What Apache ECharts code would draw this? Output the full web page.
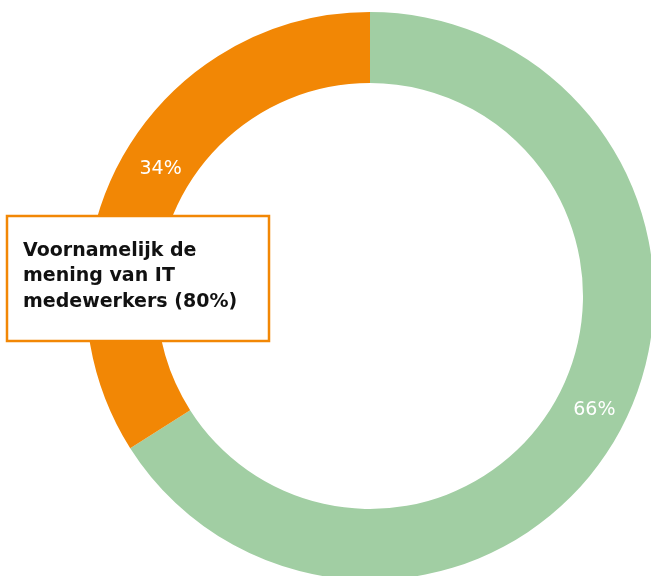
<!DOCTYPE html>
<html>
<head>
<meta charset="utf-8">
<script src="https://cdn.jsdelivr.net/npm/echarts@6/dist/echarts.min.js"></script>
<style>
  html, body { margin: 0; padding: 0; background: #ffffff; }
  #chart { width: 651px; height: 576px; }
</style>
</head>
<body>
<div id="chart"></div>
<script>
// Share of answers
const categories = ['Ja', 'Nee'];
const values = [66, 34];
const colors = ['#A1CEA3', '#F28705'];
const labelOffsets = [[4, -7], [11, -6]];
const calloutLines = ['Voornamelijk de', 'mening van IT', 'medewerkers (80%)'];

const chart = echarts.init(document.getElementById('chart'));

chart.setOption({
  animation: false,
  series: [{
    type: 'pie',
    center: [370, 296],
    radius: [213, 284],
    startAngle: 90,
    clockwise: true,
    silent: true,
    label: {
      show: true,
      position: 'inside',
      formatter: '{c}%',
      color: '#ffffff',
      fontFamily: '"DejaVu Sans", sans-serif',
      fontSize: 19
    },
    labelLine: { show: false },
    itemStyle: { borderWidth: 0 },
    data: categories.map((name, i) => ({
      name: name,
      value: values[i],
      itemStyle: { color: colors[i] },
      label: { offset: labelOffsets[i] }
    }))
  }],
  graphic: [{
    type: 'rect',
    shape: { x: 7, y: 216, width: 262, height: 125 },
    style: { fill: '#ffffff', stroke: '#F28705', lineWidth: 2.5 },
    z: 10
  }, {
    type: 'text',
    left: 23,
    top: 238,
    style: {
      text: calloutLines.join('\n'),
      fill: '#111111',
      font: 'bold 19px "DejaVu Sans", sans-serif',
      lineHeight: 25.5
    },
    z: 11
  }]
});
</script>
</body>
</html>
